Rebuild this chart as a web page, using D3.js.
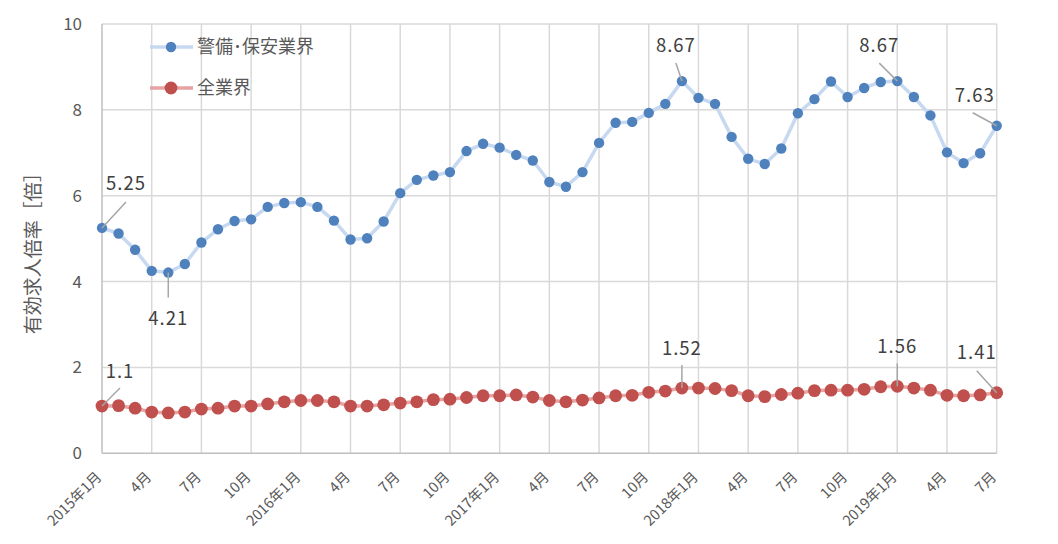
<!DOCTYPE html>
<html>
<head>
<meta charset="utf-8">
<script src="https://cdn.jsdelivr.net/npm/d3@7"></script>
<style>
  body { margin: 0; background: #fff; }
  svg text { font-family: "Noto Sans CJK JP", "Noto Sans", sans-serif; fill: #595959; }
</style>
</head>
<body>
<svg width="1058" height="544"></svg>
<script>
// 2015年1月 .. 2019年7月 (月次)
var months = d3.range(55);

var tickLabels = ["2015年1月", "4月", "7月", "10月",
                  "2016年1月", "4月", "7月", "10月",
                  "2017年1月", "4月", "7月", "10月",
                  "2018年1月", "4月", "7月", "10月",
                  "2019年1月", "4月", "7月"];

var security = [5.25, 5.12, 4.74, 4.25, 4.21, 4.41, 4.91, 5.22, 5.41, 5.45, 5.74, 5.83,
                5.85, 5.74, 5.42, 4.98, 5.01, 5.40, 6.06, 6.37, 6.47, 6.55, 7.04, 7.21,
                7.12, 6.95, 6.82, 6.32, 6.21, 6.55, 7.23, 7.70, 7.72, 7.93, 8.14, 8.67,
                8.28, 8.14, 7.37, 6.86, 6.74, 7.10, 7.92, 8.25, 8.66, 8.30, 8.51, 8.65,
                8.67, 8.30, 7.87, 7.01, 6.76, 6.99, 7.63];

var allIndustry = [1.10, 1.11, 1.05, 0.96, 0.94, 0.96, 1.03, 1.05, 1.10, 1.10, 1.15, 1.20,
                   1.23, 1.23, 1.20, 1.10, 1.10, 1.13, 1.17, 1.20, 1.25, 1.26, 1.30, 1.34,
                   1.34, 1.36, 1.31, 1.23, 1.20, 1.24, 1.29, 1.34, 1.35, 1.42, 1.45, 1.52,
                   1.52, 1.51, 1.46, 1.34, 1.32, 1.37, 1.40, 1.46, 1.47, 1.47, 1.49, 1.55,
                   1.56, 1.52, 1.47, 1.35, 1.34, 1.36, 1.41];

var seriesNames = ["警備･保安業界", "全業界"];

// annotated points: series, month index, label text
var callouts = [
  {s: 0, i: 0,  text: "5.25", dx: 24,  dy: -44, lx: 24, ly: -26},
  {s: 0, i: 4,  text: "4.21", dx: 0,   dy: 46,  lx: 0,  ly: 25},
  {s: 0, i: 35, text: "8.67", dx: -6,  dy: -36, lx: -6, ly: -18},
  {s: 0, i: 48, text: "8.67", dx: -18, dy: -36, lx: -18, ly: -18},
  {s: 0, i: 54, text: "7.63", dx: -22, dy: -30, lx: -24, ly: -13},
  {s: 1, i: 0,  text: "1.1",  dx: 18,  dy: -35, lx: 18, ly: -18},
  {s: 1, i: 35, text: "1.52", dx: 0,   dy: -40, lx: 0,  ly: -23},
  {s: 1, i: 48, text: "1.56", dx: 0,   dy: -40, lx: 0,  ly: -23},
  {s: 1, i: 54, text: "1.41", dx: -20, dy: -40, lx: -20, ly: -22}
];

var svg = d3.select("svg");
var plotL = 102, plotR = 996.7, plotT = 24, plotB = 453.3;

var x = d3.scaleLinear().domain([0, 54]).range([plotL, plotR]);
var y = d3.scaleLinear().domain([0, 10]).range([plotB, plotT]);

var tickIdx = months.filter(function(d) { return d % 3 === 0; });

// grid
var grid = svg.append("g");
grid.selectAll(".hg").data(y.ticks(5).filter(function(d) { return d > 0; }))
  .enter().append("line")
  .attr("x1", plotL).attr("x2", plotR)
  .attr("y1", function(d) { return y(d); }).attr("y2", function(d) { return y(d); })
  .attr("stroke", "#d9d9d9").attr("stroke-width", 1.5);
grid.selectAll(".vg").data(tickIdx.filter(function(d) { return d > 0; }))
  .enter().append("line")
  .attr("x1", function(d) { return x(d); }).attr("x2", function(d) { return x(d); })
  .attr("y1", plotT).attr("y2", plotB)
  .attr("stroke", "#d9d9d9").attr("stroke-width", 1.5);

// axes lines
svg.append("line").attr("x1", plotL).attr("x2", plotL).attr("y1", plotT).attr("y2", plotB)
  .attr("stroke", "#bfbfbf").attr("stroke-width", 1.5);
svg.append("line").attr("x1", plotL).attr("x2", plotR).attr("y1", plotB).attr("y2", plotB)
  .attr("stroke", "#bfbfbf").attr("stroke-width", 1.5);

// y tick labels
svg.selectAll(".yl").data(y.ticks(5)).enter().append("text")
  .attr("x", 82).attr("y", function(d) { return y(d); })
  .attr("dy", "0.35em").attr("text-anchor", "end")
  .style("font-size", "17px")
  .text(function(d) { return d; });

svg.append("text")
  .attr("transform", "translate(40," + ((plotT + plotB) / 2 + 10) + ") rotate(-90)")
  .attr("text-anchor", "middle")
  .style("font-size", "19px")
  .text("有効求人倍率［倍］");

// x tick labels
svg.selectAll(".xl").data(tickIdx).enter().append("text")
  .attr("transform", function(d) { return "translate(" + (x(d) - 3) + "," + (plotB + 21) + ") rotate(-45)"; })
  .attr("text-anchor", "end")
  .attr("dy", "0.35em")
  .style("font-size", "14.5px")
  .text(function(d, k) { return tickLabels[k]; });

var series = [
  {values: security, line: "#c6d9f1", dot: "#4f81bd", r: 5.2, w: 3.5},
  {values: allIndustry, line: "#e6a3a2", dot: "#c0504d", r: 6.4, w: 3.5}
];

var line = d3.line()
  .x(function(d, i) { return x(i); })
  .y(function(d) { return y(d); });

series.forEach(function(s) {
  svg.append("path").datum(s.values)
    .attr("d", line).attr("fill", "none")
    .attr("stroke", s.line).attr("stroke-width", s.w)
    .attr("stroke-linejoin", "round");
  svg.append("g").selectAll("circle").data(s.values).enter().append("circle")
    .attr("cx", function(d, i) { return x(i); })
    .attr("cy", function(d) { return y(d); })
    .attr("r", s.r).attr("fill", s.dot);
});

// callouts
callouts.forEach(function(c) {
  var px = x(c.i), py = y(series[c.s].values[c.i]);
  svg.append("line")
    .attr("x1", px + c.lx).attr("y1", py + c.ly)
    .attr("x2", px).attr("y2", py)
    .attr("stroke", "#a6a6a6").attr("stroke-width", 1.5);
  svg.append("text")
    .attr("x", px + c.dx).attr("y", py + c.dy)
    .attr("text-anchor", "middle").attr("dy", "0.35em")
    .style("font-size", "18.5px").style("fill", "#404040")
    .style("letter-spacing", "1px")
    .text(c.text);
});

// legend
var legend = svg.append("g");
seriesNames.forEach(function(name, k) {
  var ly = 47 + k * 41;
  legend.append("line").attr("x1", 150).attr("x2", 193).attr("y1", ly).attr("y2", ly)
    .attr("stroke", series[k].line).attr("stroke-width", series[k].w);
  legend.append("circle").attr("cx", 171).attr("cy", ly).attr("r", series[k].r).attr("fill", series[k].dot);
  legend.append("text").attr("x", 197).attr("y", ly).attr("dy", "0.35em")
    .style("font-size", "18px").text(name);
});
</script>
</body>
</html>
